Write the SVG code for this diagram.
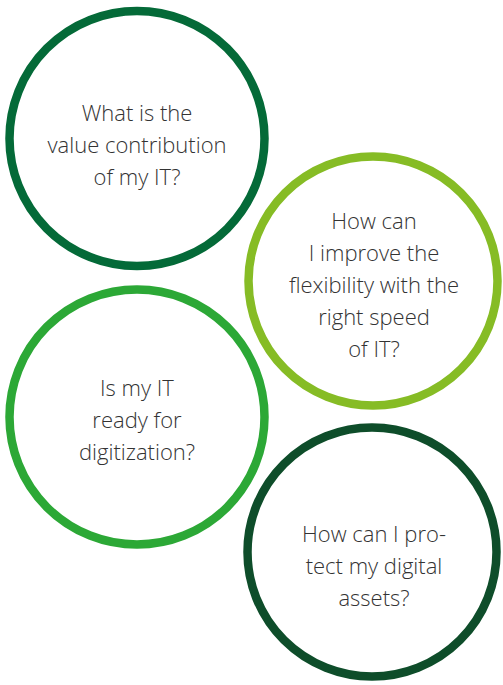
<svg xmlns="http://www.w3.org/2000/svg" width="503" height="685" viewBox="0 0 503 685">
<style>
.ring{fill:none;stroke-width:8.5}
.lbl{font-family:"Open Sans","Noto Sans","Liberation Sans",sans-serif;font-weight:300;font-size:22px;fill:#333;text-anchor:middle}
</style>
<rect width="503" height="685" fill="#fff"/>
<g id="node-value">
<circle class="ring" cx="137" cy="138.5" r="127.5" stroke="#046a38"/>
<text class="lbl"><tspan x="137" y="121">What is the</tspan><tspan x="137" y="153">value contribution</tspan><tspan x="137" y="185">of my IT?</tspan></text>
</g>
<g id="node-flex">
<circle class="ring" cx="373" cy="281" r="124.5" stroke="#86bc25"/>
<text class="lbl"><tspan x="374" y="229">How can</tspan><tspan x="374" y="261">I improve the</tspan><tspan x="374" y="293">flexibility with the</tspan><tspan x="374" y="325">right speed</tspan><tspan x="374" y="357">of IT?</tspan></text>
</g>
<g id="node-digit">
<circle class="ring" cx="137" cy="417" r="127.5" stroke="#2ca836"/>
<text class="lbl"><tspan x="137" y="396">Is my IT</tspan><tspan x="137" y="428">ready for</tspan><tspan x="137" y="460">digitization?</tspan></text>
</g>
<g id="node-protect">
<circle class="ring" cx="372" cy="552" r="124.5" stroke="#0e4d2a"/>
<text class="lbl"><tspan x="374" y="542">How can I pro-</tspan><tspan x="374" y="574">tect my digital</tspan><tspan x="374" y="606">assets?</tspan></text>
</g>
<g id="connectors"/>
</svg>
